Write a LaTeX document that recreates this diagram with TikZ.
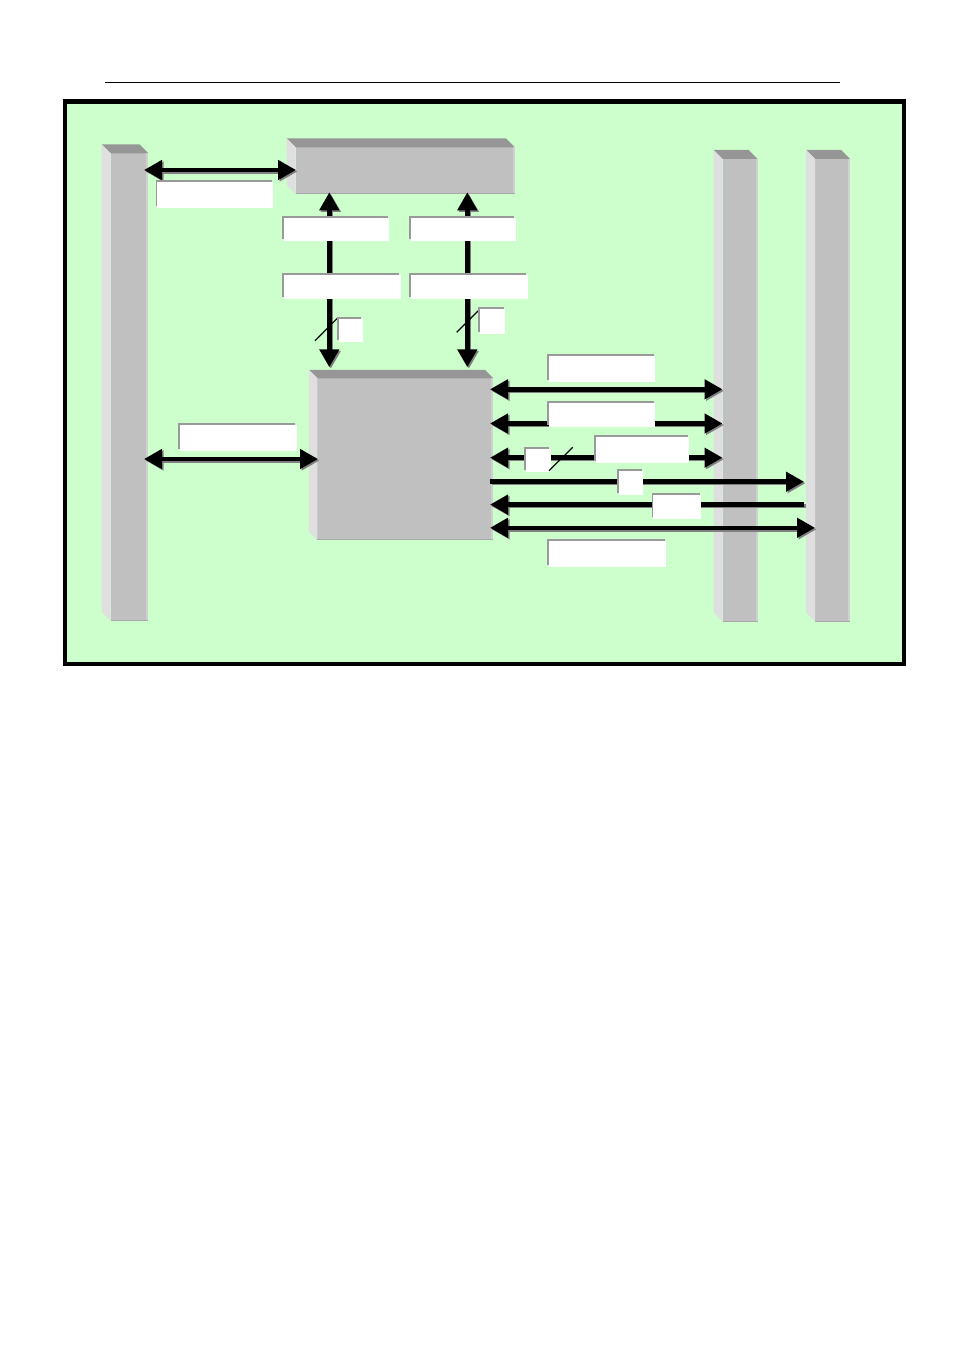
\documentclass[tikz,border=0pt]{standalone}
\usetikzlibrary{arrows.meta,calc,shadows}
\definecolor{bggreen}{HTML}{CCFFCC}
\definecolor{frontgray}{HTML}{C0C0C0}
\definecolor{topgray}{HTML}{969696}
\definecolor{sidegray}{HTML}{DFDFDF}
\definecolor{edgegray}{HTML}{D0D0D0}
\definecolor{bottomgray}{HTML}{A8A8A8}
\definecolor{lblgray}{HTML}{999999}
\definecolor{shadowgray}{HTML}{808080}
\tikzset{
  blockface/.style={fill=frontgray, draw=none, inner sep=0pt, outer sep=0pt, anchor=north west},
  lbl/.style={fill=white, draw=none, inner sep=0pt, outer sep=0pt, anchor=south east,
    drop shadow={shadow xshift=-1.5pt, shadow yshift=2pt, fill=lblgray, opacity=1}},
  bus/.style={line width=4.5pt, draw=black},
  busshadow/.style={line width=4.5pt, draw=shadowgray, transform canvas={xshift=1.5pt,yshift=-1.5pt}},
  slash/.style={line width=1.2pt, draw=black},
  >={Triangle[length=18pt,width=19pt]}
}
% block: name, x1, y1, x2, y2, depth
\newcommand\blockn[6]{%
  \node[blockface, minimum width={(#4-#2)*1pt}, minimum height={(#5-#3)*1pt}] (#1) at (#2,#3) {};
  \fill[topgray] (#1.north west) -- ++(-#6,-#6) -- ($(#1.north east)+(-#6,-#6)$) -- (#1.north east) -- cycle;
  \fill[sidegray] (#1.north west) -- ++(-#6,-#6) -- ($(#1.south west)+(-#6,-#6)$) -- (#1.south west) -- cycle;
  \fill[edgegray] ($(#1.north east)+(-2,0)$) rectangle (#1.south east);
  \draw[bottomgray, line width=1pt] ($(#1.south west)+(0,-0.5)$) -- ($(#1.south east)+(0,-0.5)$);
}
% label box: name, x1, y1, x2, y2
\newcommand\labelbox[5]{%
  \node[lbl, minimum width={(#4-#2-1.5)*1pt}, minimum height={(#5-#3-2)*1pt}] (#1) at (#4,#5) {};
}
\newcommand\busline[3]{%
  \draw[busshadow,#1] (#2) -- (#3);
  \draw[bus,#1] (#2) -- (#3);
}
\begin{document}
\begin{tikzpicture}[x=1pt,y=-1pt]
\fill[white] (0,0) rectangle (954,1351);
\useasboundingbox (0,0) rectangle (954,1351);
% top rule
\coordinate (rulel) at (105,82.3);
\coordinate (ruler) at (840,82.3);
\draw[line width=1pt] (rulel) -- (ruler);
% frame
\node[draw=black, fill=bggreen, line width=4.5pt, inner sep=0pt, outer sep=0pt, minimum width=839pt, minimum height=562.3pt, anchor=north west] (frame) at (65,101.7) {};
% blocks
\blockn{lbar}{110.7}{153.3}{148.3}{620.7}{9}
\blockn{topbox}{295.7}{147.3}{515}{194.3}{9}
\blockn{cbox}{317.3}{378.3}{493.3}{540}{8.5}
\blockn{rbarA}{722.7}{159}{757.5}{621.5}{9}
\blockn{rbarB}{815}{159}{850}{621.5}{9}
% arrow end points
\coordinate (a1l) at (144,170);   \coordinate (a1r) at (296,170);
\coordinate (a2t) at (329.3,192.3); \coordinate (a2b) at (329.3,367.3);
\coordinate (a3t) at (467.3,192.3); \coordinate (a3b) at (467.3,367.3);
\coordinate (a4l) at (144,459);   \coordinate (a4r) at (318,459);
\coordinate (a5l) at (490,389.3); \coordinate (a5r) at (722.5,389.3);
\coordinate (a6l) at (490,423.5); \coordinate (a6r) at (722.5,423.5);
\coordinate (a7l) at (490,457.7); \coordinate (a7r) at (722.5,457.7);
\coordinate (a8l) at (490,481.7); \coordinate (a8r) at (804,481.7);
\coordinate (a9l) at (490,504.6); \coordinate (a9r) at (804.3,504.6);
\coordinate (a10l) at (490,527.8); \coordinate (a10r) at (815,527.8);
% arrows
\busline{<->}{a1l}{a1r}
\busline{<->}{a2t}{a2b}
\busline{<->}{a3t}{a3b}
\busline{<->}{a4l}{a4r}
\busline{<->}{a5l}{a5r}
\busline{<->}{a6l}{a6r}
\busline{<->}{a7l}{a7r}
\busline{->}{a8l}{a8r}
\busline{<-}{a9l}{a9r}
\busline{<->}{a10l}{a10r}
% slashes
\coordinate (s1a) at (315,340.7); \coordinate (s1b) at (337.3,318.3);
\coordinate (s2a) at (456.7,332.3); \coordinate (s2b) at (478.3,310.7);
\coordinate (s3a) at (549,470.7); \coordinate (s3b) at (572.7,447.3);
\draw[slash] (s1a) -- (s1b);
\draw[slash] (s2a) -- (s2b);
% labels
\labelbox{l1}{155.5}{180.5}{273.3}{208.3}
\labelbox{l2}{282.3}{215.7}{389}{240.7}
\labelbox{l3}{409.3}{215.7}{515.7}{240.7}
\labelbox{l4}{282.3}{273.3}{400.7}{299}
\labelbox{l5}{409.3}{273.3}{527.7}{299}
\labelbox{l6}{337.3}{316.7}{362.7}{341.7}
\labelbox{l7}{478.3}{307.3}{505}{334}
\labelbox{l8}{178.3}{423.3}{296.7}{450.7}
\labelbox{l9}{547.3}{354.3}{655}{381.7}
\labelbox{l10}{547.3}{400.7}{655}{427.3}
\labelbox{l11}{594.3}{435}{689}{462.7}
\labelbox{l12}{524.3}{446.7}{550.7}{471.7}
\labelbox{l13}{617.3}{469.3}{643.3}{495}
\labelbox{l14}{651.7}{492.7}{701}{519}
\labelbox{l15}{547.3}{539}{666}{566.7}
\draw[slash] (s3a) -- (s3b);
\end{tikzpicture}
\end{document}
